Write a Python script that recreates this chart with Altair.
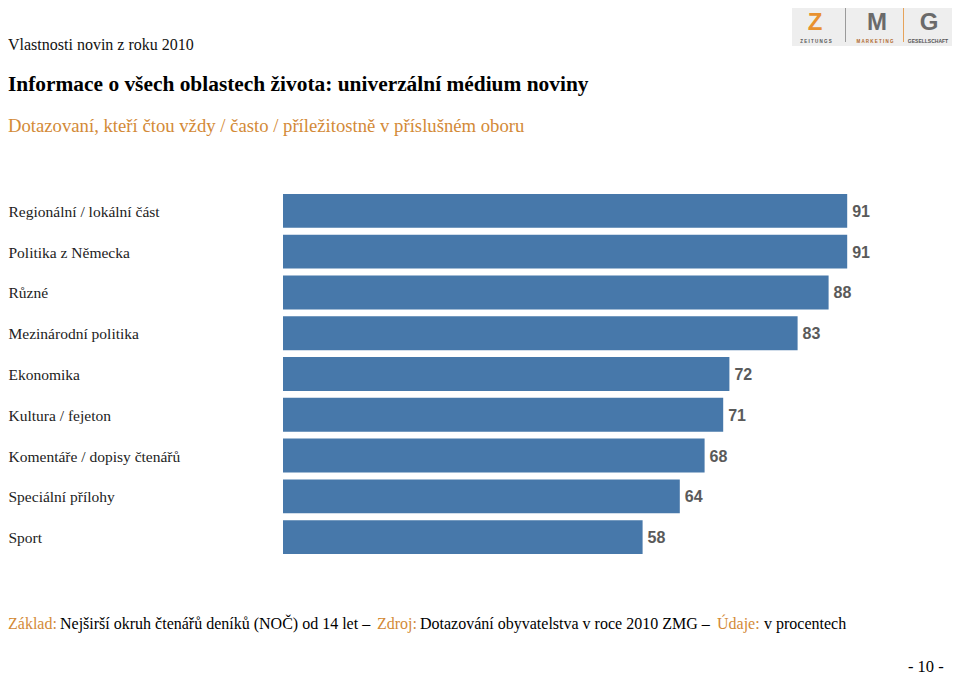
import altair as alt
import pandas as pd

categories = [
    "Regionální / lokální část",
    "Politika z Německa",
    "Různé",
    "Mezinárodní politika",
    "Ekonomika",
    "Kultura / fejeton",
    "Komentáře / dopisy čtenářů",
    "Speciální přílohy",
    "Sport",
]
values = [91, 91, 88, 83, 72, 71, 68, 64, 58]

header = "Vlastnosti novin z roku 2010"
title = "Informace o všech oblastech života: univerzální médium noviny"
subtitle = "Dotazovaní, kteří čtou vždy / často / příležitostně v příslušném oboru"
footer_parts = [
    "Základ:",
    "Nejširší okruh čtenářů deníků (NOČ) od 14 let –",
    "Zdroj:",
    "Dotazování obyvatelstva v roce 2010 ZMG –",
    "Údaje:",
    "v procentech",
]
page_no = "- 10 -"

df = pd.DataFrame({"cat": categories, "val": values})

BAR = "#4778AA"
ORANGE = "#D38A37"
SERIF = "Liberation Serif"
SANS = "Liberation Sans"

y_enc = alt.Y(
    "cat:N",
    sort=categories,
    scale=alt.Scale(paddingInner=0.17, paddingOuter=0),
    axis=alt.Axis(
        title=None, ticks=False, domain=False, grid=False,
        labelAlign="left", labelPadding=275, labelLimit=300,
        labelFont=SERIF, labelFontSize=15.5, labelColor="#222222",
        labelOffset=1,
    ),
)
x_enc = alt.X("val:Q", scale=alt.Scale(domain=[0, 100]), axis=None)

base = alt.Chart(df)
bars = base.mark_bar(color=BAR).encode(y=y_enc, x=x_enc)
labels = base.mark_text(
    align="left", baseline="middle", dx=5, dy=1,
    font=SANS, fontWeight="bold", fontSize=16, color="#5A5A5A",
).encode(y=y_enc, x=x_enc, text="val:Q")


def note(text, x, y, align="left", **kw):
    d = pd.DataFrame({"t": [text]})
    return alt.Chart(d).mark_text(align=align, baseline="alphabetic", **kw).encode(
        text="t:N", x=alt.value(x), y=alt.value(y)
    )


def rect(x, x2, y, y2, color):
    d = pd.DataFrame({"a": [0]})
    return alt.Chart(d).mark_rect(color=color).encode(
        x=alt.value(x), x2=alt.value(x2), y=alt.value(y), y2=alt.value(y2)
    )


layers = [bars, labels]
layers.append(note(header, -275, -144, font=SERIF, fontSize=16, color="#111111"))
layers.append(note(title, -275, -103, font=SERIF, fontSize=21.4, fontWeight="bold", color="#000000"))
layers.append(note(subtitle, -275, -62, font=SERIF, fontSize=18.7, color=ORANGE))

fx = [-275, -223, 94, 137, 434, 481]
fc = [ORANGE, "#000000", ORANGE, "#000000", ORANGE, "#000000"]
for t, x, c in zip(footer_parts, fx, fc):
    layers.append(note(t, x, 435, font=SERIF, fontSize=16, color=c))
layers.append(note(page_no, 625, 478, font=SERIF, fontSize=16.5, color="#000000"))

# logo
layers.append(rect(509, 669, -191, -148, "#EEEEEE"))
layers.append(rect(562, 563, -189, -152, "#9A9A9A"))
layers.append(rect(620, 621, -189, -152, "#E6A35A"))
layers.append(note("Z", 532, -164, align="center", font=SANS, fontSize=24, fontWeight="bold", color="#E8912F"))
layers.append(note("M", 594, -164, align="center", font=SANS, fontSize=24, fontWeight="bold", color="#6A6A6A"))
layers.append(note("G", 646, -164, align="center", font=SANS, fontSize=24, fontWeight="bold", color="#6A6A6A"))
layers.append(note("Z E I T U N G S", 533, -151, align="center", font=SANS, fontSize=4.5, fontWeight="bold", color="#555555"))
layers.append(note("M A R K E T I N G", 592, -151, align="center", font=SANS, fontSize=4.5, fontWeight="bold", color="#B0662A"))
layers.append(note("GESELLSCHAFT", 645, -151, align="center", font=SANS, fontSize=5, fontWeight="bold", color="#555555"))

chart = alt.layer(*layers).properties(
    width=620,
    height=360,
    autosize=alt.AutoSizeParams(type="none"),
    padding={"left": 275, "top": 186, "right": 49, "bottom": 122},
).configure(background="#FFFFFF", view=alt.ViewConfig(stroke=None))

chart.save("out.html", embed_options={"renderer": "svg", "actions": False})
